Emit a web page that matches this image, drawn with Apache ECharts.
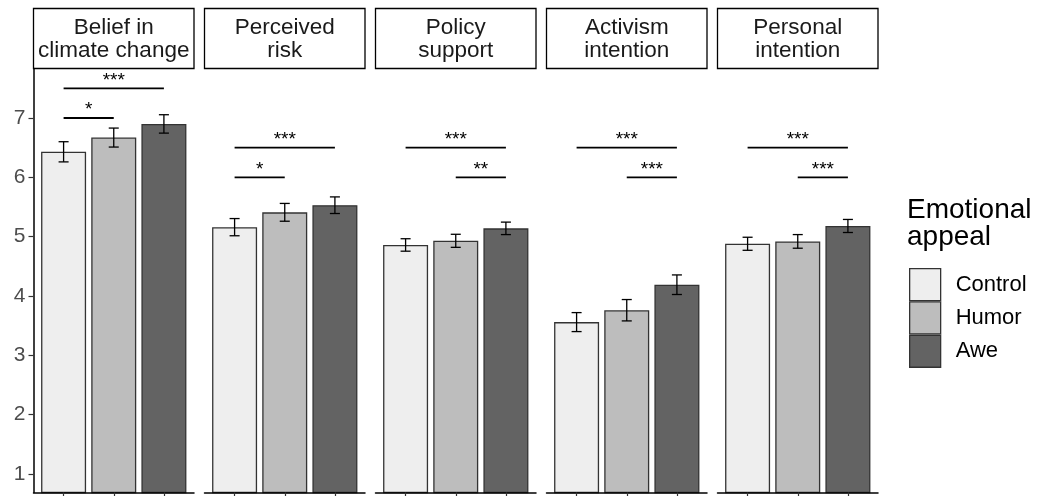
<!DOCTYPE html>
<html>
<head>
<meta charset="utf-8">
<script src="https://cdn.jsdelivr.net/npm/echarts@6/dist/echarts.min.js"></script>
<style>
  html, body { margin: 0; padding: 0; background: #ffffff; }
  #chart { width: 1039px; height: 496px; }
</style>
</head>
<body>
<div id="chart"></div>
<script>
// Outcome measures (one facet each) and experimental conditions
const outcomes = ['Belief in\nclimate change', 'Perceived\nrisk', 'Policy\nsupport', 'Activism\nintention', 'Personal\nintention'];
const groups = ['Control', 'Humor', 'Awe'];
const groupPos = [1, 2, 3];

// Mean ratings per outcome
const controlMean = [6.43, 5.16, 4.86, 3.56, 4.88];
const humorMean   = [6.67, 5.41, 4.93, 3.76, 4.92];
const aweMean     = [6.90, 5.53, 5.14, 4.19, 5.18];

// Half-length of the error bars per outcome
const controlErr = [0.17, 0.145, 0.105, 0.16, 0.11];
const humorErr   = [0.16, 0.15, 0.11, 0.18, 0.115];
const aweErr     = [0.155, 0.14, 0.105, 0.165, 0.11];

// Significance brackets: facet, from group, to group, height, stars
const bracketPanel = [0, 0, 1, 1, 2, 2, 3, 3, 4, 4];
const bracketFrom  = [1, 1, 1, 1, 1, 2, 1, 2, 1, 2];
const bracketTo    = [3, 2, 3, 2, 3, 3, 3, 3, 3, 3];
const bracketY     = [7.5, 7.0, 6.5, 6.0, 6.5, 6.0, 6.5, 6.0, 6.5, 6.0];
const bracketLabel = ['***', '*', '***', '*', '***', '**', '***', '***', '***', '***'];

// Y-axis tick labels
const yTicks = [1, 2, 3, 4, 5, 6, 7];

const FONT = "'Liberation Sans', Arial, Helvetica, sans-serif";
const fills = ['#eeeeee', '#bdbdbd', '#636363'];
const means = [controlMean, humorMean, aweMean];
const errs = [controlErr, humorErr, aweErr];

// Facet geometry
const PANEL_LEFT = 33.5, PANEL_STEP = 171, PANEL_W = 160.5;
const PANEL_TOP = 68.5, PANEL_H = 424;
const STRIP_TOP = 8.5, STRIP_H = 60;
const Y_MIN = 0.688, Y_MAX = 7.834;

const grids = [], xAxes = [], yAxes = [], series = [], graphics = [];

outcomes.forEach((name, p) => {
  const left = PANEL_LEFT + p * PANEL_STEP;
  grids.push({ left: left, top: PANEL_TOP, width: PANEL_W, height: PANEL_H, containLabel: false });

  xAxes.push({
    type: 'value', gridIndex: p, min: 0.4, max: 3.6, z: 5,
    axisLine: { show: true, onZero: false, lineStyle: { color: '#000', width: 1.5 } },
    axisTick: { show: true, customValues: groupPos, length: 4, lineStyle: { color: '#333', width: 1.2 } },
    axisLabel: { show: false },
    splitLine: { show: false }
  });

  const first = p === 0;
  yAxes.push({
    type: 'value', gridIndex: p, min: Y_MIN, max: Y_MAX, z: 5,
    axisLine: { show: first, lineStyle: { color: '#000', width: 1.5 } },
    axisTick: { show: first, customValues: yTicks, length: 5, lineStyle: { color: '#333', width: 1.2 } },
    axisLabel: { show: first, customValues: yTicks, margin: 8, color: '#4d4d4d', fontSize: 21, fontFamily: FONT },
    splitLine: { show: false }
  });

  // Bars, one series per condition so the legend lists them
  groups.forEach((g, gi) => {
    series.push({
      type: 'bar', name: g, xAxisIndex: p, yAxisIndex: p,
      data: [[groupPos[gi], means[gi][p]]],
      barWidth: 45, barGap: '-100%', clip: true, silent: true,
      itemStyle: { color: fills[gi], borderColor: '#333', borderWidth: 1.3 },
      emphasis: { disabled: true }
    });
  });

  // Error bars
  series.push({
    type: 'custom', xAxisIndex: p, yAxisIndex: p, silent: true, z: 4,
    data: groups.map((g, gi) => [groupPos[gi], means[gi][p] - errs[gi][p], means[gi][p] + errs[gi][p]]),
    encode: { x: 0, y: [1, 2] },
    renderItem: (params, api) => {
      const x = api.value(0);
      const lo = api.coord([x, api.value(1)]);
      const hi = api.coord([x, api.value(2)]);
      const half = api.size([0.1, 0])[0];
      const st = { stroke: '#000', lineWidth: 1.3 };
      return {
        type: 'group',
        children: [
          { type: 'line', shape: { x1: lo[0], y1: lo[1], x2: hi[0], y2: hi[1] }, style: st },
          { type: 'line', shape: { x1: hi[0] - half, y1: hi[1], x2: hi[0] + half, y2: hi[1] }, style: st },
          { type: 'line', shape: { x1: lo[0] - half, y1: lo[1], x2: lo[0] + half, y2: lo[1] }, style: st }
        ]
      };
    }
  });

  // Significance brackets
  const idx = bracketPanel.map((bp, i) => i).filter(i => bracketPanel[i] === p);
  const labels = idx.map(i => bracketLabel[i]);
  series.push({
    type: 'custom', xAxisIndex: p, yAxisIndex: p, silent: true, z: 4,
    data: idx.map(i => [bracketFrom[i], bracketTo[i], bracketY[i]]),
    encode: { x: [0, 1], y: 2 },
    renderItem: (params, api) => {
      const a = api.coord([api.value(0), api.value(2)]);
      const b = api.coord([api.value(1), api.value(2)]);
      return {
        type: 'group',
        children: [
          { type: 'line', shape: { x1: a[0], y1: a[1], x2: b[0], y2: b[1] }, style: { stroke: '#000', lineWidth: 1.8 } },
          { type: 'text', style: {
              text: labels[params.dataIndex], x: (a[0] + b[0]) / 2, y: a[1] - 8,
              align: 'center', verticalAlign: 'middle',
              fontSize: 19, fontFamily: FONT, fill: '#000'
          } }
        ]
      };
    }
  });

  // Facet strip
  graphics.push({
    type: 'rect', silent: true,
    shape: { x: left, y: STRIP_TOP, width: PANEL_W, height: STRIP_H },
    style: { fill: '#fff', stroke: '#000', lineWidth: 1.3 }
  });
  graphics.push({
    type: 'text', silent: true,
    style: {
      text: name, x: left + PANEL_W / 2, y: STRIP_TOP + STRIP_H / 2 + 0.5,
      align: 'center', verticalAlign: 'middle',
      fontSize: 22.5, lineHeight: 23, fontFamily: FONT, fill: '#1a1a1a'
    }
  });
});

// Legend title
graphics.push({
  type: 'text', silent: true,
  style: {
    text: 'Emotional\nappeal', x: 907, y: 197,
    align: 'left', verticalAlign: 'top',
    fontSize: 28, lineHeight: 27, fontFamily: FONT, fill: '#000'
  }
});

const chart = echarts.init(document.getElementById('chart'), null, { renderer: 'canvas' });
chart.setOption({
  animation: false,
  backgroundColor: '#ffffff',
  grid: grids,
  xAxis: xAxes,
  yAxis: yAxes,
  legend: {
    data: groups, orient: 'vertical', left: 909, top: 268, padding: 0,
    itemWidth: 31, itemHeight: 32, itemGap: 0, icon: 'rect',
    selectedMode: false,
    itemStyle: { borderColor: '#333', borderWidth: 1.3 },
    textStyle: { fontSize: 22, lineHeight: 22, fontFamily: FONT, color: '#000', padding: [0, 0, 0, 10] }
  },
  series: series,
  graphic: graphics
});
</script>
</body>
</html>
